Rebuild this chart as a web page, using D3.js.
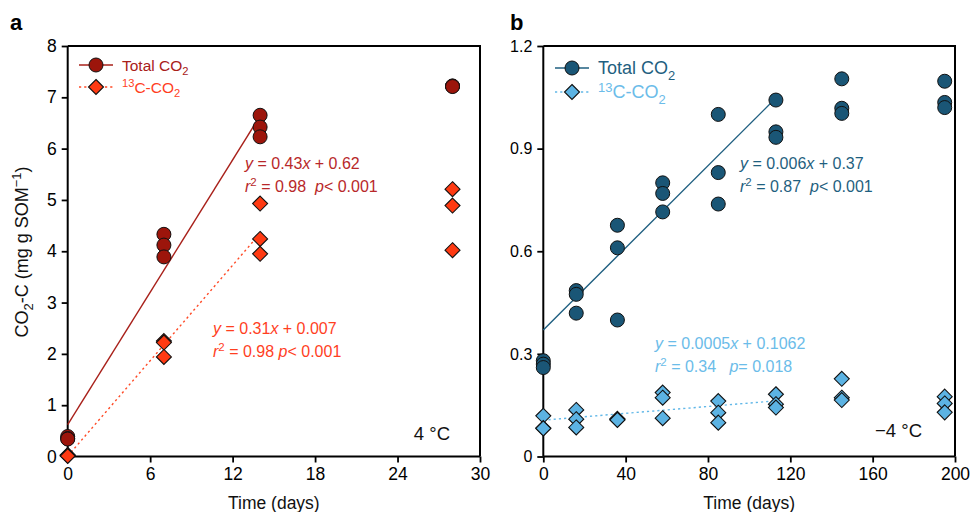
<!DOCTYPE html>
<html>
<head>
<meta charset="utf-8">
<script src="https://cdn.jsdelivr.net/npm/d3@7/dist/d3.min.js"></script>
<style>
  html, body { margin: 0; padding: 0; background: #fff; }
  svg { display: block; font-family: "Liberation Sans", Arial, Helvetica, sans-serif; }
</style>
</head>
<body>
<svg id="chart" width="970" height="512"></svg>
<script>
// ---- Panel a: 4 °C incubation ----
const daysA = [0, 7, 14, 28];
const totalA = [[0.39, 0.35, 0.34], [4.33, 4.12, 3.89], [6.65, 6.42, 6.23], [7.22, 7.22, 7.21]];
const c13A = [[0.03, 0.02, 0.01], [2.25, 2.22, 1.94], [4.93, 4.24, 3.95], [5.21, 4.89, 4.02]];
const fitTotalA = [0.43, 0.62, 0, 14];   // slope, intercept, x from, x to
const fitC13A = [0.31, 0.007, 0, 14];
const xTicksA = [0, 6, 12, 18, 24, 30];
const yTicksA = [0, 1, 2, 3, 4, 5, 6, 7, 8];

// ---- Panel b: -4 °C incubation ----
const daysB = [0, 16, 36, 58, 85, 113, 145, 195];
const totalB = [[0.28, 0.27, 0.26], [0.485, 0.474, 0.419], [0.676, 0.610, 0.399], [0.800, 0.769, 0.715],
                [1.000, 0.830, 0.738], [1.042, 0.949, 0.933], [1.104, 1.018, 1.003], [1.097, 1.035, 1.020]];
const c13B = [[0.119, 0.083, 0.082], [0.136, 0.109, 0.085], [0.110, 0.108, 0.107], [0.187, 0.172, 0.112],
              [0.162, 0.128, 0.099], [0.182, 0.153, 0.143], [0.227, 0.172, 0.165], [0.175, 0.155, 0.129]];
const fitTotalB = [0.006, 0.37, 0, 113];
const fitC13B = [0.0005, 0.1062, 0, 113];
const xTicksB = [0, 40, 80, 120, 160, 200];
const yTicksB = [0, 0.3, 0.6, 0.9, 1.2];

const svg = d3.select("#chart");
const FONT = '"Liberation Sans", Arial, Helvetica, sans-serif';

function flatten(days, groups) {
  const out = [];
  groups.forEach((g, i) => g.forEach(v => out.push({ x: days[i], y: v })));
  return out;
}

function drawPanel(opt) {
  const g = svg.append("g");
  const x = d3.scaleLinear().domain(opt.xDomain).range([opt.left, opt.right]);
  const y = d3.scaleLinear().domain(opt.yDomain).range([opt.bottom, opt.top]);

  // frame: top and right edges
  g.append("path")
    .attr("d", `M${opt.left},${opt.top}H${opt.right}V${opt.bottom}`)
    .attr("fill", "none").attr("stroke", "#000").attr("stroke-width", 2);

  const xAxis = g.append("g").attr("transform", `translate(0,${opt.bottom})`)
    .call(d3.axisBottom(x).tickValues(opt.xTicks).tickSize(6).tickPadding(5).tickFormat(d3.format("d")));
  const yAxis = g.append("g").attr("transform", `translate(${opt.left},0)`)
    .call(d3.axisLeft(y).tickValues(opt.yTicks).tickSize(6).tickPadding(5).tickFormat(opt.yFormat));
  [xAxis, yAxis].forEach(a => {
    a.select(".domain").attr("stroke-width", 2).attr("d",
      a === xAxis ? `M${opt.left},0H${opt.right}` : `M0,${opt.bottom}V${opt.top}`);
    a.selectAll(".tick line").attr("stroke-width", 1.8);
    a.selectAll("text").attr("font-family", FONT).attr("fill", "#000");
  });
  xAxis.selectAll("text").attr("font-size", 17.5);
  yAxis.selectAll("text").attr("font-size", opt.yTickSize);

  // regression lines
  const fits = [[opt.fitTotal, opt.totalLine, null], [opt.fitC13, opt.c13Line, "2.2,3"]];
  fits.forEach(([f, col, dash]) => {
    g.append("line")
      .attr("x1", x(f[2])).attr("y1", y(f[0] * f[2] + f[1]))
      .attr("x2", x(f[3])).attr("y2", y(f[0] * f[3] + f[1]))
      .attr("stroke", col).attr("stroke-width", 1.4)
      .attr("stroke-dasharray", dash);
  });

  // circles: total CO2
  g.selectAll("circle.tot").data(flatten(opt.days, opt.total)).join("circle")
    .attr("class", "tot")
    .attr("cx", d => x(d.x)).attr("cy", d => y(d.y)).attr("r", 7)
    .attr("fill", opt.totalFill).attr("stroke", "#111").attr("stroke-width", 1);

  // diamonds: 13C-CO2
  const diamond = "M0,-7.5L7.5,0L0,7.5L-7.5,0Z";
  g.selectAll("path.c13").data(flatten(opt.days, opt.c13)).join("path")
    .attr("class", "c13")
    .attr("d", diamond)
    .attr("transform", d => `translate(${x(d.x)},${y(d.y)})`)
    .attr("fill", opt.c13Fill).attr("stroke", "#111").attr("stroke-width", 1.1);

  // legend
  const lg = g.append("g").attr("font-family", FONT).attr("font-size", opt.legendSize);
  const l1 = opt.legendY1, l2 = opt.legendY2, lx = opt.legendX;
  lg.append("line").attr("x1", lx).attr("x2", lx + 34).attr("y1", l1).attr("y2", l1)
    .attr("stroke", opt.totalLine).attr("stroke-width", 1.4);
  lg.append("circle").attr("cx", lx + 17).attr("cy", l1).attr("r", 7)
    .attr("fill", opt.totalFill).attr("stroke", "#111").attr("stroke-width", 1);
  lg.append("line").attr("x1", lx).attr("x2", lx + 34).attr("y1", l2).attr("y2", l2)
    .attr("stroke", opt.c13Line).attr("stroke-width", 1.4).attr("stroke-dasharray", "2.2,3");
  lg.append("path").attr("d", diamond).attr("transform", `translate(${lx + 17},${l2})`)
    .attr("fill", opt.c13Fill).attr("stroke", "#111").attr("stroke-width", 1.1);

  const t1 = lg.append("text").attr("x", lx + 43).attr("y", l1 + opt.legendSize * 0.36).attr("fill", opt.totalText);
  t1.append("tspan").text("Total CO");
  t1.append("tspan").attr("font-size", opt.legendSize * 0.72).attr("dy", opt.legendSize * 0.3).text("2");
  const t2 = lg.append("text").attr("x", lx + 43).attr("y", l2 + opt.legendSize * 0.36).attr("fill", opt.c13Text);
  t2.append("tspan").attr("font-size", opt.legendSize * 0.72).attr("dy", -opt.legendSize * 0.38).text("13");
  t2.append("tspan").attr("dy", opt.legendSize * 0.38).text("C-CO");
  t2.append("tspan").attr("font-size", opt.legendSize * 0.72).attr("dy", opt.legendSize * 0.3).text("2");

  // regression annotations
  opt.notes.forEach(n => {
    const a = g.append("g").attr("font-family", FONT).attr("font-size", 16).attr("fill", n.color);
    const e = a.append("text").attr("x", n.x).attr("y", n.y);
    e.append("tspan").attr("font-style", "italic").text("y");
    e.append("tspan").text(` = ${n.slope}`);
    e.append("tspan").attr("font-style", "italic").text("x");
    e.append("tspan").text(` + ${n.intercept}`);
    const r = a.append("text").attr("x", n.x).attr("y", n.y + 23).attr("xml:space", "preserve");
    r.append("tspan").attr("font-style", "italic").text("r");
    r.append("tspan").attr("font-size", 11.5).attr("dy", -6).text("2");
    r.append("tspan").attr("dy", 6).text(` = ${n.r2}${n.gap}`);
    r.append("tspan").attr("font-style", "italic").text("p");
    r.append("tspan").text(n.p);
  });

  // temperature label
  g.append("text").attr("x", opt.tempX).attr("y", opt.tempY).attr("text-anchor", "end")
    .attr("font-family", FONT).attr("font-size", 18.5).attr("fill", "#111").text(opt.temp);

  // panel letter
  g.append("text").attr("x", opt.letterX).attr("y", 30)
    .attr("font-family", FONT).attr("font-size", 22).attr("font-weight", "bold").text(opt.letter);

  // x-axis title
  g.append("text").attr("x", (opt.left + opt.right) / 2).attr("y", 509).attr("text-anchor", "middle")
    .attr("font-family", FONT).attr("font-size", 17.5).attr("fill", "#111").text("Time (days)");
}

drawPanel({
  left: 67.7, right: 480, top: 46, bottom: 456.5,
  xDomain: [0, 30], yDomain: [0, 8], xTicks: xTicksA, yTicks: yTicksA,
  yFormat: d3.format("d"), yTickSize: 17.5,
  days: daysA, total: totalA, c13: c13A, fitTotal: fitTotalA, fitC13: fitC13A,
  totalFill: "#9c150b", totalLine: "#a8201a", totalText: "#a8201a",
  c13Fill: "#ff3a12", c13Line: "#ff4a26", c13Text: "#ff3f1f",
  legendX: 79, legendY1: 65, legendY2: 87, legendSize: 15.5,
  notes: [
    { x: 245, y: 169, color: "#b8282a", slope: "0.43", intercept: "0.62", r2: "0.98", gap: "  ", p: "< 0.001" },
    { x: 213, y: 334, color: "#ff3f1f", slope: "0.31", intercept: "0.007", r2: "0.98", gap: " ", p: "< 0.001" }
  ],
  temp: "4 °C", tempX: 450, tempY: 440,
  letter: "a", letterX: 10
});

drawPanel({
  left: 543.3, right: 955, top: 46, bottom: 456.5,
  xDomain: [0, 200], yDomain: [0, 1.2], xTicks: xTicksB, yTicks: yTicksB,
  yFormat: d => (d === 0 ? "0" : d3.format(".1f")(d)), yTickSize: 16,
  days: daysB, total: totalB, c13: c13B, fitTotal: fitTotalB, fitC13: fitC13B,
  totalFill: "#1a5676", totalLine: "#1f5f80", totalText: "#1f5f80",
  c13Fill: "#5cb3e3", c13Line: "#62b8e8", c13Text: "#6bbce9",
  legendX: 555, legendY1: 68, legendY2: 92, legendSize: 18,
  notes: [
    { x: 740, y: 169, color: "#1f5f80", slope: "0.006", intercept: "0.37", r2: "0.87", gap: "  ", p: "< 0.001" },
    { x: 655, y: 349, color: "#6bbce9", slope: "0.0005", intercept: "0.1062", r2: "0.34", gap: "   ", p: "= 0.018" }
  ],
  temp: "\u22124 °C", tempX: 922, tempY: 437,
  letter: "b", letterX: 510
});

// y-axis title for panel a
const yt = svg.append("text")
  .attr("transform", "translate(28,252) rotate(-90)")
  .attr("text-anchor", "middle").attr("font-family", FONT).attr("font-size", 18).attr("fill", "#111");
yt.append("tspan").text("CO");
yt.append("tspan").attr("font-size", 13).attr("dy", 5).text("2");
yt.append("tspan").attr("dy", -5).text("-C (mg g SOM");
yt.append("tspan").attr("font-size", 13).attr("dy", -7).text("\u22121");
yt.append("tspan").attr("dy", 7).text(")");
</script>
</body>
</html>
